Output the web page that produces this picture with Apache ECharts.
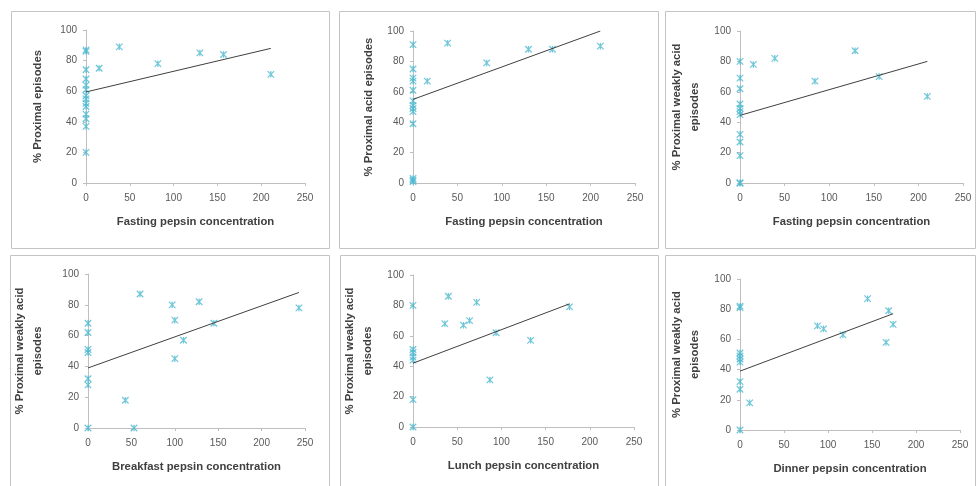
<!DOCTYPE html>
<html>
<head>
<meta charset="utf-8">
<script src="https://cdn.jsdelivr.net/npm/echarts@6/dist/echarts.min.js"></script>
<style>html,body{margin:0;padding:0;background:#fff}#c{width:977px;height:486px}</style>
</head>
<body>
<div id="c"></div>
<script>
// ---- data ----
var xTicks = [0, 50, 100, 150, 200, 250];
var yTicks = [0, 20, 40, 60, 80, 100];

var p1x = [0,0,0,0,0,0,0,0,0,0,0,0,0,0, 15,38,82,130,157,211];
var p1y = [87,86,74,68,64,61,57,55,52,50,45,42,37,20, 75,89,78,85,84,71];
var p1trendX = [0, 211];
var p1trendY = [59.5, 88];

var p2x = [0,0,0,0,0,0,0,0,0,0,0,0,0, 16,39,83,130,157,211];
var p2y = [91,75,69,67,61,54,51,49,47,39,3,2,1, 67,92,79,88,88,90];
var p2trendX = [0, 211];
var p2trendY = [55, 100];

var p3x = [0,0,0,0,0,0,0,0,0,0,0,0, 15,39,84,129,156,210];
var p3y = [80,69,62,52,49,47,45,32,27,18,0,0, 78,82,67,87,70,57];
var p3trendX = [0, 210];
var p3trendY = [44.5, 80];

var p4x = [0,0,0,0,0,0,0, 43,53,60,97,100,100,110,128,145,243];
var p4y = [68,62,51,49,32,28,0, 18,0,87,80,70,45,57,82,68,78];
var p4trendX = [0, 243];
var p4trendY = [39, 88];

var p5x = [0,0,0,0,0,0,0, 36,40,57,64,72,87,94,133,177];
var p5y = [80,51,49,46,44,18,0, 68,86,67,70,82,31,62,57,79];
var p5trendX = [0, 177];
var p5trendY = [42, 81];

var p6x = [0,0,0,0,0,0,0,0,0, 11,88,95,117,145,166,169,174];
var p6y = [82,81,51,49,47,45,32,27,0, 18,69,67,63,87,58,79,70];
var p6trendX = [0, 174];
var p6trendY = [39, 77];

var xTitles = ['Fasting pepsin concentration','Fasting pepsin concentration','Fasting pepsin concentration',
               'Breakfast pepsin concentration','Lunch pepsin concentration','Dinner pepsin concentration'];
var yTitles = ['% Proximal episodes','% Proximal acid episodes','% Proximal weakly acid\nepisodes',
               '% Proximal weakly acid\nepisodes','% Proximal weakly acid\nepisodes','% Proximal weakly acid\nepisodes'];

// ---- layout ----
var grids = [
  {left:86,  top:30,  width:219, height:153},
  {left:413, top:31,  width:222, height:152},
  {left:740, top:31,  width:223, height:152},
  {left:88,  top:274, width:217, height:154},
  {left:413, top:275, width:221, height:152},
  {left:740, top:279, width:220, height:151}
];
var frames = [
  [11,11,318,237],[339,11,319,237],[665,11,310,237],
  [10,255,319,240],[340,255,318,240],[665,255,310,240]
];
var yNameGaps = [39, 35, 36, 41, 36, 36];

var xs = [p1x,p2x,p3x,p4x,p5x,p6x];
var ys = [p1y,p2y,p3y,p4y,p5y,p6y];
var tx = [p1trendX,p2trendX,p3trendX,p4trendX,p5trendX,p6trendX];
var ty = [p1trendY,p2trendY,p3trendY,p4trendY,p5trendY,p6trendY];

function zip(a,b){ return a.map(function(v,i){ return [v,b[i]]; }); }

var axisColor = '#bfbfbf';
var labelColor = '#595959';
var titleColor = '#404040';
var font = 'Liberation Sans, Arial, sans-serif';
var starPath = 'path://M0,0L10,10M10,0L0,10M5,0L5,10';

var option = {
  animation: false,
  backgroundColor: '#fff',
  grid: [], xAxis: [], yAxis: [], series: [],
  graphic: frames.map(function(f){
    return {type:'rect', shape:{x:f[0]+0.5,y:f[1]+0.5,width:f[2],height:f[3]},
            style:{fill:'none', stroke:'#c4c4c4', lineWidth:1}, silent:true};
  })
};

for (var i = 0; i < 6; i++) {
  option.grid.push(Object.assign({containLabel:false}, grids[i]));
  option.xAxis.push({
    type:'value', gridIndex:i, min:xTicks[0], max:xTicks[xTicks.length-1], interval:50,
    name:xTitles[i], nameLocation:'middle', nameGap:33,
    nameTextStyle:{color:titleColor, fontWeight:'bold', fontSize:11.3, fontFamily:font},
    axisLine:{lineStyle:{color:axisColor}},
    axisTick:{show:true, length:3, lineStyle:{color:axisColor}},
    axisLabel:{color:labelColor, fontSize:10, fontFamily:font, margin:10},
    splitLine:{show:false}
  });
  option.yAxis.push({
    type:'value', gridIndex:i, min:yTicks[0], max:yTicks[yTicks.length-1], interval:20,
    name:yTitles[i], nameLocation:'middle', nameGap:yNameGaps[i], nameRotate:90,
    nameTextStyle:{color:titleColor, fontWeight:'bold', fontSize:11.3, fontFamily:font, lineHeight:18},
    axisLine:{show:true, lineStyle:{color:axisColor}},
    axisTick:{show:true, length:3, lineStyle:{color:axisColor}},
    axisLabel:{color:labelColor, fontSize:10, fontFamily:font, margin:9},
    splitLine:{show:false}
  });
  option.series.push({
    type:'scatter', xAxisIndex:i, yAxisIndex:i, data:zip(xs[i],ys[i]),
    symbol:starPath, symbolSize:6.5,
    itemStyle:{color:'rgba(0,0,0,0)', borderColor:'#4bb8cf', borderWidth:1.2}
  });
  option.series.push({
    type:'line', xAxisIndex:i, yAxisIndex:i, data:zip(tx[i],ty[i]),
    symbol:'none', lineStyle:{color:'#404040', width:1}
  });
}

var chart = echarts.init(document.getElementById('c'), null, {renderer:'canvas'});
chart.setOption(option);
</script>
</body>
</html>
